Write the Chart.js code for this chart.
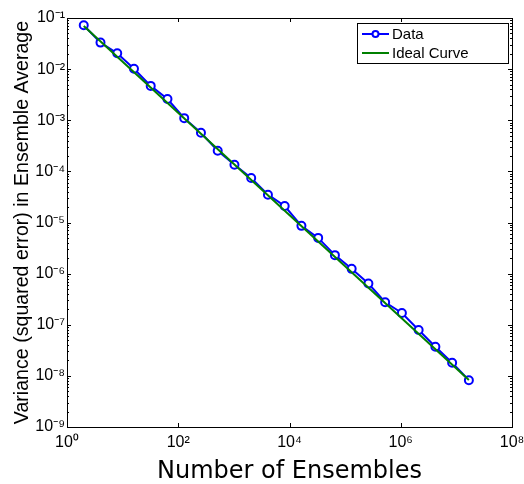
<!DOCTYPE html>
<html>
<head>
<meta charset="utf-8">
<script src="https://cdn.jsdelivr.net/npm/chart.js@4.4.1/dist/chart.umd.min.js"></script>
<style>
  html, body { margin: 0; padding: 0; background: #fff; }
  #wrap { width: 524px; height: 484px; }
</style>
</head>
<body>
<div id="wrap"><canvas id="varianceChart" width="524" height="484"></canvas></div>
<script>
// number of ensembles (x) and measured variance (y)
const ensembles = [2, 4, 8, 16, 32, 64, 128, 256, 512, 1024, 2048, 4096, 8192, 16384,
  32768, 65536, 131072, 262144, 524288, 1048576, 2097152, 4194304, 8388608, 16777216];
const variance = [0.072, 0.033, 0.0204, 0.0102, 0.0047, 0.0026, 0.0011, 0.00057,
  0.000253, 0.000135, 7.4e-5, 3.5e-5, 2.1e-5, 8.6e-6, 5.0e-6, 2.3e-6, 1.24e-6,
  6.4e-7, 2.75e-7, 1.7e-7, 7.9e-8, 3.7e-8, 1.8e-8, 8.2e-9];

// ideal 1/N curve, end points
const idealEnsembles = [2, 16777216];
const idealVariance = [0.07, 8.3e-9];

const xTicks = [1, 1e2, 1e4, 1e6, 1e8];
const yTicks = [1e-9, 1e-8, 1e-7, 1e-6, 1e-5, 1e-4, 1e-3, 1e-2, 1e-1];

const seriesNames = ["Data", "Ideal Curve"];

const SUP = { "0": "⁰", "1": "¹", "2": "²", "3": "³", "4": "⁴", "5": "⁵",
  "6": "⁶", "7": "⁷", "8": "⁸", "9": "⁹", "-": "⁻" };

function powerLabel(v) {
  const e = Math.round(Math.log10(v));
  return "10" + String(e).split("").map((c) => SUP[c]).join("");
}

// frame + inward ticks like the old matplotlib look
const frameTicks = {
  id: "frameTicks",
  afterDraw(chart) {
    const { ctx, chartArea: a, scales } = chart;
    ctx.save();
    ctx.strokeStyle = "#000";
    ctx.lineWidth = 1;
    ctx.beginPath();
    for (const v of xTicks) {
      const px = Math.round(scales.x.getPixelForValue(v)) + 0.5;
      ctx.moveTo(px, a.bottom); ctx.lineTo(px, a.bottom - 4);
      ctx.moveTo(px, a.top); ctx.lineTo(px, a.top + 4);
    }
    for (const v of yTicks) {
      const py = Math.round(scales.y.getPixelForValue(v)) + 0.5;
      ctx.moveTo(a.left, py); ctx.lineTo(a.left + 4, py);
      ctx.moveTo(a.right, py); ctx.lineTo(a.right - 4, py);
      if (v < 1e-1) {
        for (let m = 2; m <= 9; m++) {
          const pm = Math.round(scales.y.getPixelForValue(v * m)) + 0.5;
          ctx.moveTo(a.left, pm); ctx.lineTo(a.left + 2, pm);
          ctx.moveTo(a.right, pm); ctx.lineTo(a.right - 2, pm);
        }
      }
    }
    ctx.stroke();
    ctx.strokeRect(Math.round(a.left) + 0.5, Math.round(a.top) + 0.5,
      Math.round(a.right - a.left), Math.round(a.bottom - a.top));
    ctx.restore();
  },
};

// legend box in the upper right of the plot
const boxLegend = {
  id: "boxLegend",
  afterDraw(chart) {
    const { ctx, chartArea: a } = chart;
    const w = 151, h = 40;
    const x0 = a.right - 4 - w, y0 = a.top + 5;
    ctx.save();
    ctx.fillStyle = "#fff";
    ctx.fillRect(x0, y0, w, h);
    ctx.strokeStyle = "#000";
    ctx.lineWidth = 1;
    ctx.strokeRect(x0 + 0.5, y0 + 0.5, w, h);
    ctx.font = "15px 'Liberation Sans', Arial, sans-serif";
    ctx.textBaseline = "middle";
    chart.data.datasets.forEach((ds, i) => {
      const y = y0 + 11 + i * 19;
      ctx.strokeStyle = ds.borderColor;
      ctx.lineWidth = 2;
      ctx.beginPath();
      ctx.moveTo(x0 + 5, y); ctx.lineTo(x0 + 32, y);
      ctx.stroke();
      if (ds.pointRadius > 0) {
        ctx.beginPath();
        ctx.arc(x0 + 18.5, y, 3, 0, Math.PI * 2);
        ctx.fillStyle = ds.pointBackgroundColor;
        ctx.fill();
        ctx.stroke();
      }
      ctx.fillStyle = "#000";
      ctx.fillText(ds.label, x0 + 35, y + 1);
    });
    ctx.restore();
  },
};

const tickFont = { family: "'Liberation Sans', Arial, sans-serif", size: 16 };

new Chart(document.getElementById("varianceChart"), {
  type: "line",
  data: {
    datasets: [
      {
        label: seriesNames[0],
        data: ensembles.map((n, i) => ({ x: n, y: variance[i] })),
        borderColor: "#0000ff",
        borderWidth: 2,
        pointRadius: 4,
        pointBorderWidth: 2,
        pointBackgroundColor: "#ffffff",
        pointBorderColor: "#0000ff",
        order: 1,
      },
      {
        label: seriesNames[1],
        data: idealEnsembles.map((n, i) => ({ x: n, y: idealVariance[i] })),
        borderColor: "#008000",
        borderWidth: 2,
        pointRadius: 0,
        order: 0,
      },
    ],
  },
  options: {
    responsive: false,
    animation: false,
    devicePixelRatio: 1,
    layout: { padding: { top: 18, right: 12, left: 0, bottom: 0 } },
    plugins: { legend: { display: false }, tooltip: { enabled: false } },
    scales: {
      x: {
        type: "logarithmic",
        min: 1,
        max: 1e8,
        afterBuildTicks: (s) => { s.ticks = xTicks.map((v) => ({ value: v })); },
        afterFit: (s) => { s.height = 57; s.paddingLeft = 0; s.paddingRight = 0; },
        grid: { display: false, drawTicks: false },
        border: { display: false },
        ticks: {
          autoSkip: false,
          maxRotation: 0,
          padding: 6,
          color: "#000",
          font: tickFont,
          callback: (v) => powerLabel(v),
        },
        title: {
          display: true,
          text: "Number of Ensembles",
          color: "#000",
          font: { family: "'DejaVu Sans', sans-serif", size: 24, lineHeight: 1 },
          padding: { top: 0, bottom: 0 },
        },
      },
      y: {
        type: "logarithmic",
        min: 1e-9,
        max: 1e-1,
        afterBuildTicks: (s) => { s.ticks = yTicks.map((v) => ({ value: v })); },
        afterFit: (s) => { s.width = 67; s.paddingTop = 0; s.paddingBottom = 0; },
        grid: { display: false, drawTicks: false },
        border: { display: false },
        ticks: {
          autoSkip: false,
          padding: 2,
          color: "#000",
          font: tickFont,
          callback: (v) => powerLabel(v),
        },
        title: {
          display: true,
          text: "Variance (squared error) in Ensemble Average",
          color: "#000",
          font: { family: "'Liberation Sans', Arial, sans-serif", size: 19.6, lineHeight: 1.2 },
          padding: { top: 11, bottom: 0 },
        },
      },
    },
  },
  plugins: [frameTicks, boxLegend],
});
</script>
</body>
</html>
